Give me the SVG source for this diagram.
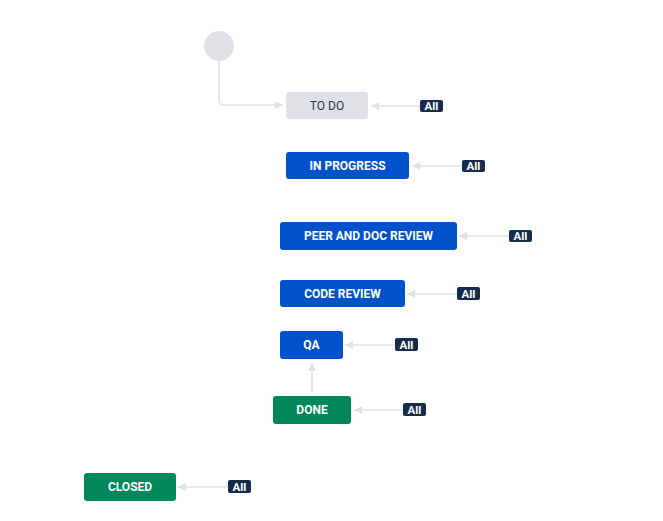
<svg xmlns="http://www.w3.org/2000/svg" width="663" height="521" viewBox="0 0 663 521">
<style>
.n{rx:3;ry:3}
.blue{fill:#0052CC}
.green{fill:#00875A}
.grey{fill:#DFE1E6}
.lbl{font-family:Roboto,"Liberation Sans",sans-serif;font-size:12px;font-weight:bold;fill:#FFFFFF;text-anchor:middle;dominant-baseline:central}
.dark{fill:#253858;font-weight:normal}
.badge{fill:#172B4D}
.bl{font-family:Roboto,"Liberation Sans",sans-serif;font-size:11.5px;font-weight:bold;fill:#FFFFFF;text-anchor:middle;dominant-baseline:central}
.c{fill:none;stroke:#DFE1E6;stroke-width:1.5}
</style>
<defs>
<marker id="ah" viewBox="0 0 8 8" refX="8" refY="4" markerWidth="8" markerHeight="8" markerUnits="userSpaceOnUse" orient="auto">
<path d="M0,0 L8,4 L0,8 Z" fill="#DFE1E6"/>
</marker>
</defs>
<rect width="663" height="521" fill="#FFFFFF"/>
<g id="connectors">
<path class="c" d="M219,61 V100 Q219,105 224,105 H283" marker-end="url(#ah)"/>
<path class="c" d="M420,106 H371" marker-end="url(#ah)"/>
<path class="c" d="M462,166 H412" marker-end="url(#ah)"/>
<path class="c" d="M509,236 H459" marker-end="url(#ah)"/>
<path class="c" d="M457,294 H407" marker-end="url(#ah)"/>
<path class="c" d="M395,345 H345" marker-end="url(#ah)"/>
<path class="c" d="M403,410 H354" marker-end="url(#ah)"/>
<path class="c" d="M312,392 V363" marker-end="url(#ah)"/>
<path class="c" d="M228,487 H178" marker-end="url(#ah)"/>
</g>
<g id="start"><circle cx="219" cy="46" r="15" fill="#DFE1E6"/></g>
<g id="todo"><rect class="n grey" x="286" y="92" width="82" height="27"/><text class="lbl dark" x="327" y="105.5">TO DO</text></g>
<g id="todo-all"><rect class="badge" x="420" y="100" width="23" height="12" rx="2"/><text class="bl" x="431.5" y="106">All</text></g>
<g id="inprogress"><rect class="n blue" x="286" y="152" width="123" height="27"/><text class="lbl" x="347.5" y="165.5">IN PROGRESS</text></g>
<g id="inprogress-all"><rect class="badge" x="462" y="160" width="23" height="12" rx="2"/><text class="bl" x="473.5" y="166">All</text></g>
<g id="peer"><rect class="n blue" x="280" y="222" width="177" height="28"/><text class="lbl" x="368.5" y="236">PEER AND DOC REVIEW</text></g>
<g id="peer-all"><rect class="badge" x="509" y="230" width="23" height="12" rx="2"/><text class="bl" x="520.5" y="236">All</text></g>
<g id="codereview"><rect class="n blue" x="280" y="280" width="125" height="27"/><text class="lbl" x="342.5" y="293.5">CODE REVIEW</text></g>
<g id="codereview-all"><rect class="badge" x="457" y="287" width="23" height="13" rx="2"/><text class="bl" x="468.5" y="293.5">All</text></g>
<g id="qa"><rect class="n blue" x="280" y="331" width="63" height="28"/><text class="lbl" x="311.5" y="345">QA</text></g>
<g id="qa-all"><rect class="badge" x="395" y="338" width="23" height="13" rx="2"/><text class="bl" x="406.5" y="344.5">All</text></g>
<g id="done"><rect class="n green" x="273" y="396" width="78" height="28"/><text class="lbl" x="312" y="410">DONE</text></g>
<g id="done-all"><rect class="badge" x="403" y="403" width="23" height="13" rx="2"/><text class="bl" x="414.5" y="409.5">All</text></g>
<g id="closed"><rect class="n green" x="84" y="473" width="92" height="28"/><text class="lbl" x="130" y="487">CLOSED</text></g>
<g id="closed-all"><rect class="badge" x="228" y="480" width="23" height="13" rx="2"/><text class="bl" x="239.5" y="486.5">All</text></g>
</svg>
